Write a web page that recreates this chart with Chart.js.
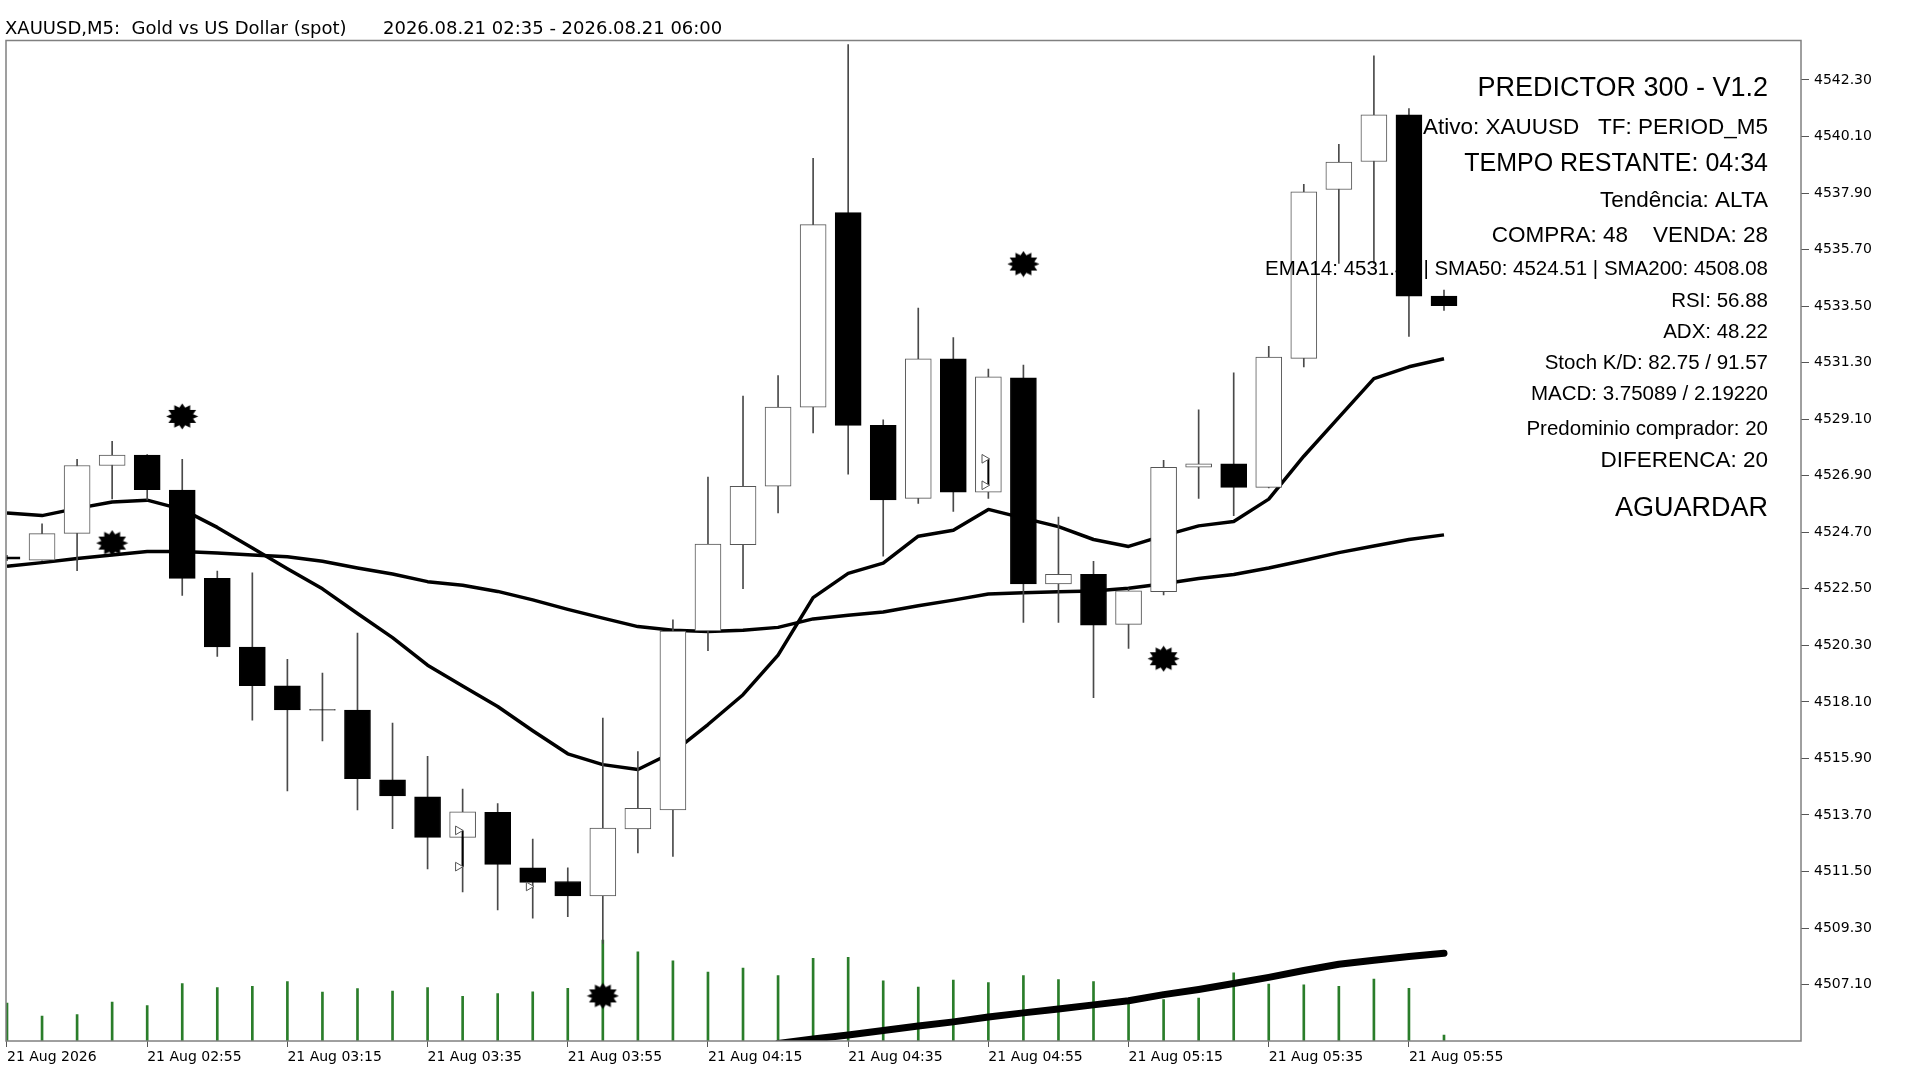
<!DOCTYPE html>
<html>
<head>
<meta charset="utf-8">
<title>XAUUSD,M5</title>
<script src="https://cdn.jsdelivr.net/npm/chart.js@4/dist/chart.umd.min.js"></script>
<style>
  html, body { margin: 0; padding: 0; background: #fff; }
  canvas { display: block; }
</style>
</head>
<body>
<canvas id="chart" width="1920" height="1080"></canvas>
<script>
// bar times, 5 minute candles
const times = ['02:35', '02:40', '02:45', '02:50', '02:55', '03:00', '03:05', '03:10', '03:15', '03:20',
	'03:25', '03:30', '03:35', '03:40', '03:45', '03:50', '03:55', '04:00', '04:05', '04:10',
	'04:15', '04:20', '04:25', '04:30', '04:35', '04:40', '04:45', '04:50', '04:55', '05:00',
	'05:05', '05:10', '05:15', '05:20', '05:25', '05:30', '05:35', '05:40', '05:45', '05:50',
	'05:55', '06:00']

const open = [4523.75, 4523.62, 4524.66, 4527.30, 4527.70, 4526.34, 4522.91, 4520.23, 4518.73, 4517.80,
	4517.78, 4515.07, 4514.41, 4512.83, 4513.80, 4511.64, 4511.11, 4510.55, 4513.16, 4513.90,
	4520.86, 4524.22, 4526.49, 4529.57, 4537.14, 4528.86, 4526.02, 4531.45, 4526.26, 4530.71,
	4522.69, 4523.06, 4521.12, 4522.39, 4527.23, 4527.36, 4526.45, 4531.47, 4538.04, 4539.13,
	4540.94, 4533.89]
const high = [4523.80, 4525.03, 4527.54, 4528.24, 4527.72, 4527.54, 4523.19, 4523.12, 4519.76, 4519.22,
	4520.78, 4517.28, 4515.98, 4514.71, 4514.14, 4512.76, 4511.64, 4517.47, 4516.17, 4521.29,
	4526.85, 4530.00, 4530.80, 4539.25, 4543.68, 4529.08, 4533.42, 4532.28, 4531.05, 4531.21,
	4525.29, 4523.57, 4522.50, 4527.50, 4529.47, 4530.91, 4531.94, 4538.24, 4539.80, 4543.24,
	4541.19, 4534.13]
const low = [4523.60, 4523.62, 4523.21, 4526.00, 4525.96, 4522.24, 4519.87, 4517.39, 4514.64, 4516.58,
	4513.90, 4513.17, 4511.60, 4510.71, 4510.01, 4509.68, 4509.74, 4508.70, 4512.22, 4512.09,
	4520.09, 4522.51, 4525.45, 4528.57, 4526.96, 4523.77, 4525.82, 4525.51, 4526.02, 4521.19,
	4521.19, 4518.26, 4520.18, 4522.26, 4526.02, 4525.35, 4526.43, 4531.14, 4535.16, 4535.16,
	4532.32, 4533.33]
const close = [4523.65, 4524.65, 4527.30, 4527.70, 4526.36, 4522.91, 4520.24, 4518.73, 4517.79, 4517.78,
	4515.11, 4514.44, 4512.83, 4513.82, 4511.78, 4511.08, 4510.55, 4513.19, 4513.96, 4520.86,
	4524.24, 4526.49, 4529.57, 4536.67, 4528.86, 4525.96, 4531.45, 4526.26, 4530.75, 4522.69,
	4523.06, 4521.09, 4522.42, 4527.23, 4527.36, 4526.45, 4531.52, 4537.95, 4539.11, 4540.94,
	4533.89, 4533.52]
const volumes = [380, 250, 265, 390, 354, 575, 533, 547, 595, 489,
	523, 499, 533, 447, 475, 492, 527, 1009, 892, 802,
	688, 730, 654, 826, 836, 602, 540, 609, 585, 654,
	613, 595, 420, 413, 430, 681, 568, 561, 547, 620,
	527, 58]

// moving averages as drawn on the chart
const ema14 = [4525.45, 4525.35, 4525.63, 4525.88, 4525.95, 4525.59, 4524.89, 4524.09, 4523.28, 4522.50,
	4521.54, 4520.60, 4519.53, 4518.72, 4517.92, 4516.98, 4516.08, 4515.66, 4515.47, 4516.14,
	4517.22, 4518.38, 4519.92, 4522.16, 4523.10, 4523.50, 4524.55, 4524.78, 4525.59, 4525.25,
	4524.92, 4524.42, 4524.15, 4524.57, 4524.95, 4525.12, 4525.99, 4527.66, 4529.17, 4530.68,
	4531.14, 4531.45]
const sma50 = [4523.38, 4523.52, 4523.68, 4523.82, 4523.95, 4523.95, 4523.89, 4523.82, 4523.75, 4523.57,
	4523.31, 4523.08, 4522.78, 4522.64, 4522.40, 4522.07, 4521.70, 4521.36, 4521.03, 4520.89,
	4520.84, 4520.89, 4521.00, 4521.33, 4521.47, 4521.60, 4521.84, 4522.06, 4522.30, 4522.35,
	4522.39, 4522.42, 4522.52, 4522.70, 4522.90, 4523.06, 4523.31, 4523.60, 4523.91, 4524.17,
	4524.42, 4524.60]
const sma200 = [null, null, null, null, null, null, null, null, null, null,
	null, null, null, null, null, null, null, null, null, null,
	null, null, 4504.81, 4504.98, 4505.14, 4505.31, 4505.49, 4505.65, 4505.84, 4506.00,
	4506.15, 4506.31, 4506.47, 4506.71, 4506.91, 4507.14, 4507.38, 4507.65, 4507.89, 4508.05,
	4508.19, 4508.32]

// signal stars and trade arrows
const starBars = [3, 5, 17, 29, 33]
const starPrices = [4524.28, 4529.21, 4506.66, 4535.14, 4519.78]
const arrowBars = [12.87, 12.87, 14.89, 27.89, 27.89]
const arrowPrices = [4513.10, 4511.69, 4510.92, 4527.56, 4526.53]
const linkBars = [13, 13, null, 28, 28]
const linkPrices = [4513.10, 4511.69, null, 4527.56, 4526.53]

// axis ticks
const xTickBars = [0, 4, 8, 12, 16, 20, 24, 28, 32, 36, 40]
const xTickLabels = ['21 Aug 2026', '21 Aug 02:55', '21 Aug 03:15', '21 Aug 03:35', '21 Aug 03:55',
	'21 Aug 04:15', '21 Aug 04:35', '21 Aug 04:55', '21 Aug 05:15', '21 Aug 05:35', '21 Aug 05:55']
const yTicks = [4507.10, 4509.30, 4511.50, 4513.70, 4515.90, 4518.10, 4520.30, 4522.50, 4524.70,
	4526.90, 4529.10, 4531.30, 4533.50, 4535.70, 4537.90, 4540.10, 4542.30]

const titleLeft = 'XAUUSD,M5:  Gold vs US Dollar (spot)'
const titleRight = '2026.08.21 02:35 - 2026.08.21 06:00'
const panelLines = [
	'PREDICTOR 300 - V1.2',
	'Ativo: XAUUSD   TF: PERIOD_M5',
	'TEMPO RESTANTE: 04:34',
	'Tendência: ALTA',
	'COMPRA: 48    VENDA: 28',
	'EMA14: 4531.45 | SMA50: 4524.51 | SMA200: 4508.08',
	'RSI: 56.88',
	'ADX: 48.22',
	'Stoch K/D: 82.75 / 91.57',
	'MACD: 3.75089 / 2.19220',
	'Predominio comprador: 20',
	'DIFERENCA: 20',
	'AGUARDAR'
]

const bars = times.map((t, i) => i)
const bull = bars.map(i => close[i] >= open[i])

// 12 point burst used for the signal marks
function starburst(w, h, spikes) {
	const c = document.createElement('canvas')
	c.width = w
	c.height = h
	const g = c.getContext('2d')
	g.fillStyle = '#000'
	g.beginPath()
	for (let k = 0; k < spikes * 2; k++) {
		const a = Math.PI * k / spikes - Math.PI / 2
		const r = k % 2 === 0 ? 1 : 0.7
		const px = w / 2 + Math.cos(a) * r * (w / 2 - 0.5)
		const py = h / 2 + Math.sin(a) * r * (h / 2 - 0.5)
		if (k === 0) g.moveTo(px, py)
		else g.lineTo(px, py)
	}
	g.closePath()
	g.fill()
	return c
}
const star = starburst(33, 27, 12)

const framePlugin = {
	id: 'frame',
	afterDatasetsDraw(chart) {
		const { ctx, chartArea: a } = chart
		ctx.save()
		ctx.strokeStyle = '#808080'
		ctx.lineWidth = 1.5
		ctx.strokeRect(a.left, a.top, a.right - a.left, a.bottom - a.top)
		ctx.restore()
	}
}

const textPlugin = {
	id: 'texts',
	afterDatasetsDraw(chart) {
		const ctx = chart.ctx
		ctx.save()
		ctx.fillStyle = '#000'
		ctx.textBaseline = 'middle'
		ctx.textAlign = 'left'
		ctx.font = '18px "DejaVu Sans"'
		ctx.fillText(titleLeft, 5, 29)
		ctx.fillText(titleRight, 383, 29)

		// info panel, right aligned
		const rows = [[89, 27], [128, 22.5], [164, 25], [201, 22.5], [236, 22.5], [269, 20.5], [301, 20.5],
			[332, 20.5], [363, 20.5], [394, 20.5], [429, 20.5], [461, 22.5], [509, 27]]
		ctx.textAlign = 'right'
		panelLines.forEach((line, k) => {
			ctx.font = rows[k][1] + 'px "Liberation Sans", Arial'
			ctx.fillText(line, 1768, rows[k][0])
		})
		ctx.restore()
	}
}

Chart.defaults.font.family = '"DejaVu Sans"'
Chart.defaults.color = '#000'

const chart = new Chart(document.getElementById('chart'), {
	type: 'bar',
	data: {
		datasets: [
			{
				label: 'Volume',
				yAxisID: 'yVol',
				data: bars.map(i => ({ x: i, y: volumes[i] })),
				backgroundColor: '#2a7d2a',
				barThickness: 2,
				grouped: false,
				clip: 0,
				order: 10
			},
			{
				type: 'line',
				label: 'SMA200',
				data: bars.filter(i => sma200[i] !== null).map(i => ({ x: i, y: sma200[i] })),
				borderColor: '#000',
				borderWidth: 7,
				borderCapStyle: 'round',
				borderJoinStyle: 'round',
				pointRadius: 0,
				tension: 0,
				clip: 0,
				order: 9
			},
			{
				type: 'line',
				label: 'SMA50',
				data: bars.map(i => ({ x: i, y: sma50[i] })),
				borderColor: '#000',
				borderWidth: 3.5,
				borderJoinStyle: 'round',
				pointRadius: 0,
				tension: 0,
				clip: 0,
				order: 8
			},
			{
				type: 'line',
				label: 'EMA14',
				data: bars.map(i => ({ x: i, y: ema14[i] })),
				borderColor: '#000',
				borderWidth: 3.5,
				borderJoinStyle: 'round',
				pointRadius: 0,
				tension: 0,
				clip: 0,
				order: 7
			},
			{
				label: 'Wicks',
				data: bars.map(i => ({ x: i, y: [low[i], high[i]] })),
				backgroundColor: '#4a4a4a',
				barThickness: 1,
				borderWidth: 0,
				grouped: false,
				clip: 0,
				order: 5
			},
			{
				label: 'XAUUSD',
				data: bars.map(i => ({ x: i, y: [open[i], close[i]] })),
				backgroundColor: ctx => bull[ctx.dataIndex] ? '#fff' : '#000',
				borderColor: ctx => bull[ctx.dataIndex] ? '#555' : '#000',
				borderWidth: 1,
				borderSkipped: false,
				barThickness: 26,
				grouped: false,
				clip: 0,
				order: 4
			},
			{
				type: 'line',
				label: 'Trade link',
				data: linkBars.map((b, k) => ({ x: b, y: linkPrices[k] })),
				borderColor: '#000',
				borderWidth: 2,
				pointRadius: 0,
				spanGaps: false,
				clip: 0,
				order: 3
			},
			{
				type: 'line',
				label: 'Trades',
				showLine: false,
				data: arrowBars.map((b, k) => ({ x: b, y: arrowPrices[k] })),
				pointStyle: 'triangle',
				rotation: 90,
				pointRadius: 5,
				backgroundColor: '#fff',
				borderColor: '#555',
				borderWidth: 1,
				clip: 0,
				order: 2
			},
			{
				type: 'line',
				label: 'Signals',
				showLine: false,
				data: starBars.map((b, k) => ({ x: b, y: starPrices[k] })),
				pointStyle: star,
				pointRadius: 10,
				clip: 0,
				order: 1
			}
		]
	},
	options: {
		responsive: false,
		devicePixelRatio: 1,
		animation: false,
		events: [],
		layout: { autoPadding: false, padding: { left: 6, top: 40.5, right: 0, bottom: 0 } },
		plugins: {
			legend: { display: false },
			tooltip: { enabled: false }
		},
		scales: {
			x: {
				type: 'linear',
				min: -0.0285,
				max: 51.186,
				offset: false,
				bounds: 'data',
				border: { display: false },
				grid: { drawOnChartArea: false, drawTicks: true, tickLength: 6, tickColor: '#555', offset: false },
				afterBuildTicks: s => { s.ticks = xTickBars.map(v => ({ value: v })) },
				afterFit: s => {
					s.height = 39
					s.paddingLeft = 0
					s.paddingRight = 0
				},
				ticks: {
					autoSkip: false,
					maxRotation: 0,
					align: 'start',
					padding: 2,
					color: '#000',
					font: { size: 14 },
					callback: (v, i) => xTickLabels[i]
				}
			},
			y: {
				type: 'linear',
				position: 'right',
				min: 4504.905,
				max: 4543.837,
				bounds: 'data',
				border: { display: false },
				grid: { drawOnChartArea: false, drawTicks: true, tickLength: 8, tickColor: '#555' },
				afterBuildTicks: s => { s.ticks = yTicks.map(v => ({ value: v })) },
				afterFit: s => {
					s.width = 119
					s.paddingTop = 0
					s.paddingBottom = 0
				},
				ticks: {
					padding: 5,
					color: '#000',
					font: { size: 14 },
					callback: v => v.toFixed(2)
				}
			},
			yVol: {
				type: 'linear',
				display: false,
				min: 0,
				max: 10005
			}
		}
	},
	plugins: [framePlugin, textPlugin]
})
</script>
</body>
</html>
